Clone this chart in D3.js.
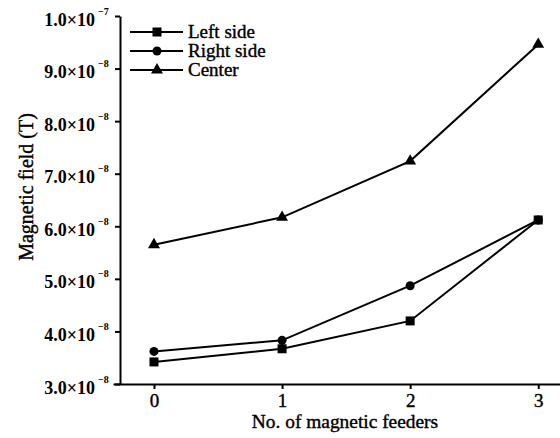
<!DOCTYPE html>
<html>
<head>
<meta charset="utf-8">
<script src="https://cdn.jsdelivr.net/npm/d3@7"></script>
<style>
  body { margin: 0; background: #fff; }
  svg text { font-family: "Liberation Serif", "Times New Roman", serif; fill: #000; }
  svg text.heavy { stroke: #000; stroke-width: 0.4px; }
</style>
</head>
<body>
<svg width="560" height="438"></svg>
<script>
// feeders on x, field in units of 1e-8 T
let feeders = [0, 1, 2, 3];
let leftSide = [3.42, 3.67, 4.2, 6.12];
let rightSide = [3.62, 3.83, 4.87, 6.12];
let center = [5.65, 6.17, 7.24, 9.46];
let yTicks = [3, 4, 5, 6, 7, 8, 9, 10];

let series = [
  {name: 'Left side', values: leftSide, symbol: d3.symbolSquare, size: 81},
  {name: 'Right side', values: rightSide, symbol: d3.symbolCircle, size: 64},
  {name: 'Center', values: center, symbol: d3.symbolTriangle, size: 62}
];

let svg = d3.select('svg');

let x = d3.scaleLinear().domain([-0.32, 3.17]).range([113, 560]);
let y = d3.scaleLinear().domain([3, 10]).range([384, 16]);

// x axis
let xAxis = svg.append('g').attr('transform', 'translate(0,384)')
  .call(d3.axisBottom(x).tickValues(feeders).tickFormat(d3.format('d')).tickSize(5).tickSizeOuter(0))
  .attr('font-family', null);
xAxis.select('.domain').attr('stroke-width', 2);
xAxis.selectAll('.tick line').attr('stroke-width', 2);
xAxis.selectAll('.tick text').attr('class', 'heavy').attr('font-size', 19).attr('y', 23).attr('dy', 0);

// y axis
let yAxis = svg.append('g').attr('transform', 'translate(120,0)')
  .call(d3.axisLeft(y).tickValues(yTicks).tickFormat('').tickSize(5).tickSizeOuter(0))
  .attr('font-family', null);
yAxis.select('.domain').attr('stroke-width', 2);
yAxis.selectAll('.tick line').attr('stroke-width', 2);
yAxis.selectAll('.tick text').remove();

yAxis.selectAll('.tick').append('text')
  .attr('x', -25).attr('y', 9).attr('text-anchor', 'end')
  .attr('font-size', 18).attr('font-weight', 'bold')
  .text(d => d === 10 ? '1.0×10' : d.toFixed(1) + '×10');
yAxis.selectAll('.tick').append('text')
  .attr('x', -22).attr('y', -2).attr('text-anchor', 'start')
  .attr('font-size', 10).attr('font-weight', 'bold')
  .text(d => d === 10 ? '−7' : '−8');

// axis titles
svg.append('text').attr('class', 'heavy').attr('x', 345).attr('y', 428).attr('text-anchor', 'middle')
  .attr('font-size', 19.4).text('No. of magnetic feeders');
svg.append('text').attr('class', 'heavy').attr('transform', 'translate(33,187) rotate(-90)').attr('text-anchor', 'middle')
  .attr('font-size', 20).text('Magnetic field (T)');

// lines and markers
let line = d3.line().x((d, i) => x(feeders[i])).y(d => y(d));

series.forEach(s => {
  svg.append('path').datum(s.values).attr('d', line)
    .attr('fill', 'none').attr('stroke', '#000').attr('stroke-width', 2);
  svg.selectAll(null).data(s.values).enter().append('path')
    .attr('d', d3.symbol().type(s.symbol).size(s.size))
    .attr('transform', (d, i) => `translate(${x(feeders[i])},${y(d)})`)
    .attr('fill', '#000');
});

// legend
let legend = svg.append('g');
series.forEach((s, i) => {
  let ly = 32 + i * 19;
  legend.append('line').attr('x1', 130).attr('x2', 183).attr('y1', ly).attr('y2', ly)
    .attr('stroke', '#000').attr('stroke-width', 2);
  legend.append('path').attr('d', d3.symbol().type(s.symbol).size(s.size))
    .attr('transform', `translate(157,${ly})`).attr('fill', '#000');
  legend.append('text').attr('class', 'heavy').attr('x', 188).attr('y', ly + 6)
    .attr('font-size', 19).text(s.name);
});
</script>
</body>
</html>
